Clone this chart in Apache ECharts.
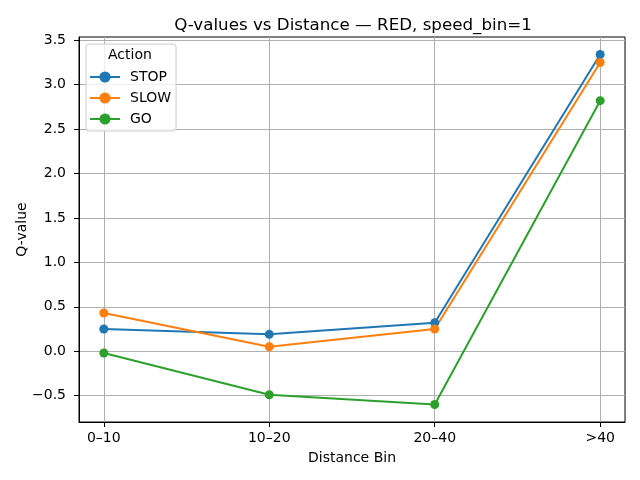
<!DOCTYPE html>
<html>
<head>
<meta charset="utf-8">
<script src="https://cdn.jsdelivr.net/npm/echarts@6/dist/echarts.min.js"></script>
<style>
  html, body { margin: 0; padding: 0; background: #fff; }
  #chart { width: 640px; height: 480px; }
</style>
</head>
<body>
<div id="chart"></div>
<script>
// values
const categories = ["0\u201310", "10\u201320", "20\u201340", ">40"];
const stopValues = [0.25, 0.19, 0.32, 3.34];
const slowValues = [0.43, 0.05, 0.25, 3.25];
const goValues = [-0.02, -0.49, -0.60, 2.82];
const yTicks = [-0.5, 0, 0.5, 1, 1.5, 2, 2.5, 3, 3.5];
const xTicks = [0, 1, 2, 3];

const font = "DejaVu Sans";

function toPoints(values) {
  return values.map((v, i) => [i, v]);
}

function lineSeries(name, values, color) {
  return {
    name: name,
    type: "line",
    data: toPoints(values),
    symbol: "circle",
    symbolSize: 9,
    showSymbol: true,
    itemStyle: { color: color },
    lineStyle: { color: color, width: 2 },
    emphasis: { disabled: true },
    animation: false,
    z: 3,
  };
}

const chart = echarts.init(document.getElementById("chart"), null, { renderer: "canvas" });

const option = {
  backgroundColor: "#fff",
  animation: false,
  textStyle: { fontFamily: font },
  title: {
    text: "Q-values vs Distance \u2014 RED, speed_bin=1",
    left: 348,
    top: 12,
    textAlign: "center",
    textStyle: { fontFamily: font, fontSize: 16.7, fontWeight: "normal", color: "#000" },
  },
  grid: {
    left: 79,
    right: 15,
    top: 37,
    bottom: 58,
    show: true,
    borderColor: "#000",
    borderWidth: 1,
    backgroundColor: "transparent",
  },
  legend: {
    orient: "vertical",
    left: 86,
    top: 44,
    data: ["STOP", "SLOW", "GO"],
    itemWidth: 30,
    itemHeight: 14,
    itemGap: 7,
    padding: [26, 5, 5, 3],
    backgroundColor: "rgba(255,255,255,0.8)",
    borderColor: "#cccccc",
    borderWidth: 1,
    borderRadius: 3,
    textStyle: { fontFamily: font, fontSize: 14, color: "#000", padding: [0, 0, 0, 5] },
    z: 10,
  },
  graphic: [
    {
      type: "text",
      left: 108,
      top: 48,
      z: 11,
      style: { text: "Action", font: "14px " + font, fill: "#000" },
    },
  ],
  xAxis: {
    type: "value",
    min: -0.15,
    max: 3.15,
    name: "Distance Bin",
    nameLocation: "middle",
    nameGap: 29,
    nameMoveOverlap: false,
    nameTextStyle: { fontFamily: font, fontSize: 14, color: "#000" },
    axisLine: { show: true, onZero: false, lineStyle: { color: "#000", width: 1 } },
    axisTick: { show: true, inside: false, length: 5, customValues: xTicks, lineStyle: { color: "#000" } },
    axisLabel: {
      customValues: xTicks,
      margin: 9,
      fontFamily: font,
      fontSize: 14,
      color: "#000",
      formatter: (v) => categories[Math.round(v)],
    },
    splitLine: { show: true, lineStyle: { color: "#b0b0b0", width: 1 } },
  },
  yAxis: {
    type: "value",
    min: -0.797,
    max: 3.537,
    name: "Q-value",
    nameLocation: "middle",
    nameGap: 50,
    nameMoveOverlap: false,
    nameTextStyle: { fontFamily: font, fontSize: 14, color: "#000" },
    axisLine: { show: true, onZero: false, lineStyle: { color: "#000", width: 1 } },
    axisTick: { show: true, inside: false, length: 5, customValues: yTicks, lineStyle: { color: "#000" } },
    axisLabel: {
      customValues: yTicks,
      margin: 13,
      fontFamily: font,
      fontSize: 14,
      color: "#000",
      formatter: (v) => v.toFixed(1).replace("-", "\u2212"),
    },
    splitLine: { show: true, lineStyle: { color: "#b0b0b0", width: 1 } },
  },
  series: [
    lineSeries("STOP", stopValues, "#1f77b4"),
    lineSeries("SLOW", slowValues, "#ff7f0e"),
    lineSeries("GO", goValues, "#2ca02c"),
  ],
};

chart.setOption(option);
</script>
</body>
</html>
